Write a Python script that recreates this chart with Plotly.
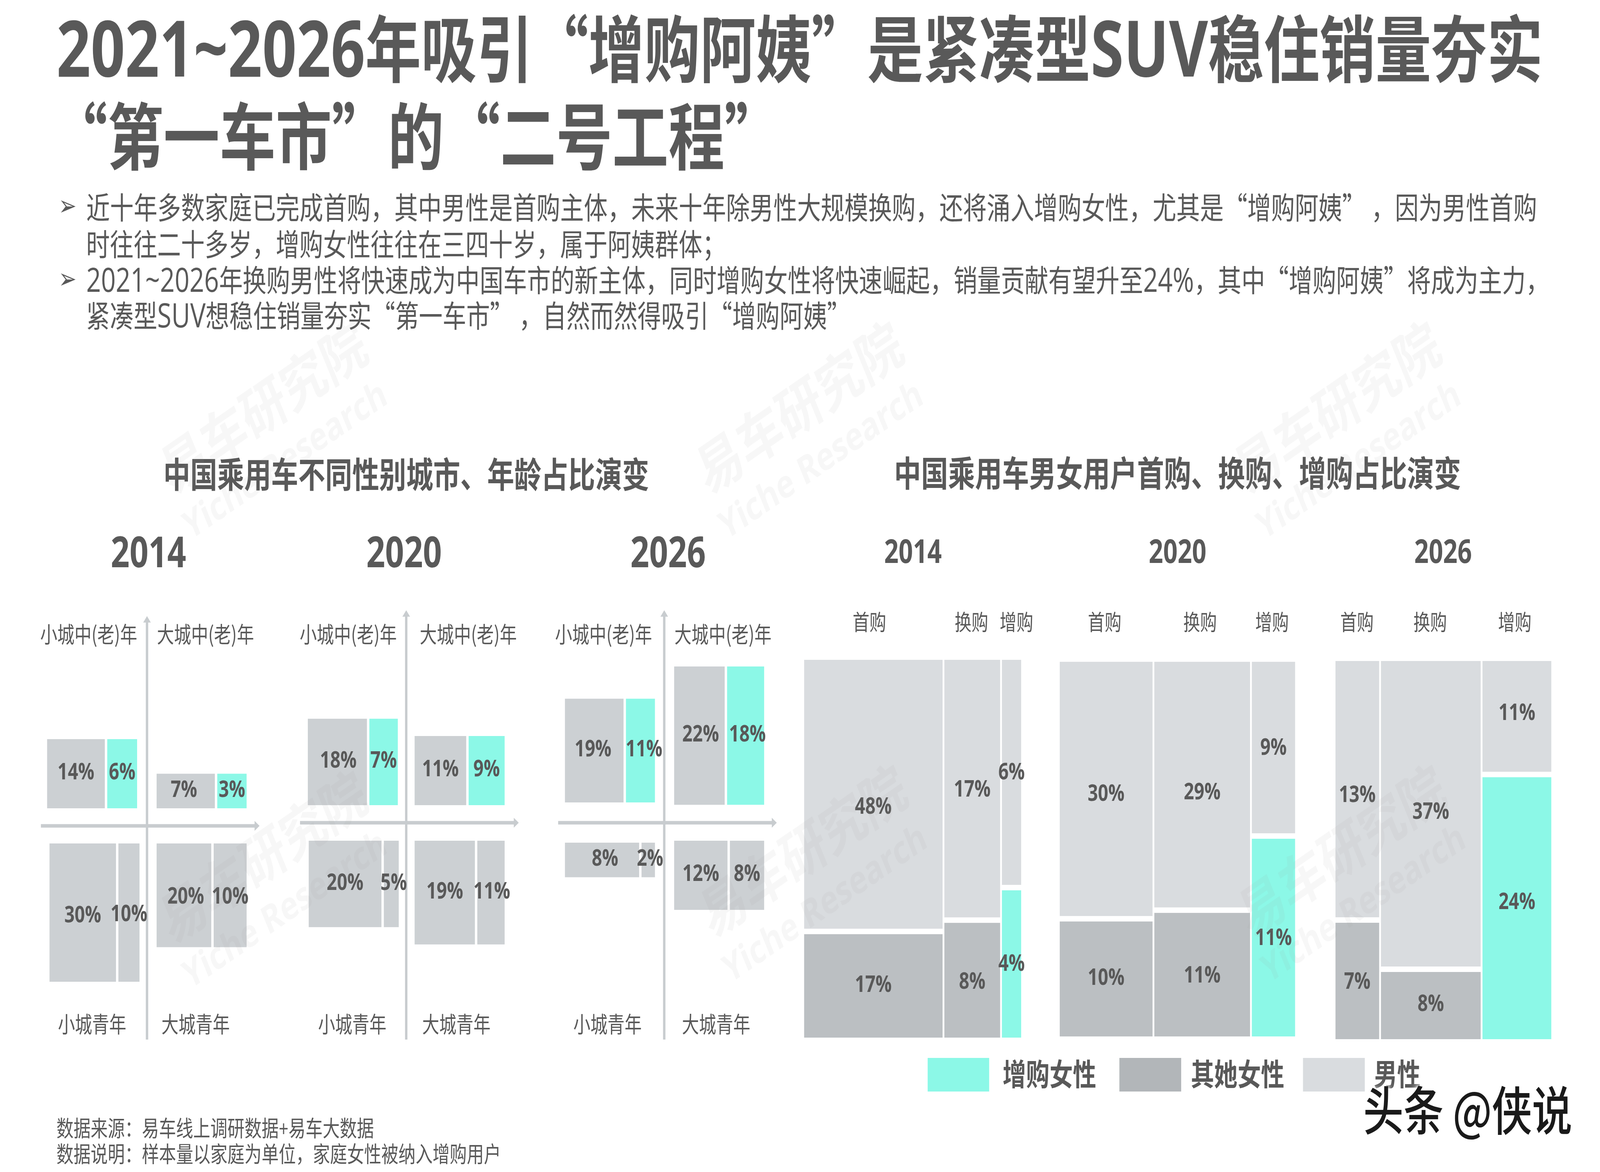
import re
import plotly.graph_objects as go

# ---------- data ----------
TITLE_LINES = ["2021~2026年吸引“增购阿姨”是紧凑型SUV稳住销量夯实", "“第一车市”的“二号工程”"]
BODY_LINES = [
    "近十年多数家庭已完成首购，其中男性是首购主体，未来十年除男性大规模换购，还将涌入增购女性，尤其是“增购阿姨”\u00a0，因为男性首购",
    "时往往二十多岁，增购女性往往在三四十岁，属于阿姨群体；",
    "2021~2026年换购男性将快速成为中国车市的新主体，同时增购女性将快速崛起，销量贡献有望升至24%，其中“增购阿姨”将成为主力，",
    "紧凑型SUV想稳住销量夯实“第一车市”\u00a0，自然而然得吸引“增购阿姨”",
]
SUBTITLE_LEFT = "中国乘用车不同性别城市、年龄占比演变"
SUBTITLE_RIGHT = "中国乘用车男女用户首购、换购、增购占比演变"
YEARS = ["2014", "2020", "2026"]
QUAD_NAMES = ["小城中(老)年", "大城中(老)年", "小城青年", "大城青年"]
PURCHASE_TYPES = ["首购", "换购", "增购"]
LEGEND_NAMES = ["增购女性", "其她女性", "男性"]
SOURCE_LINES = ["数据来源：易车线上调研数据+易车大数据", "数据说明：样本量以家庭为单位，家庭女性被纳入增购用户"]

# quadrant shares: [older small city, older big city, young small city, young big city]
quad_2014 = [[14, 6], [7, 3], [30, 10], [20, 10]]
quad_2020 = [[18, 7], [11, 9], [20, 5], [19, 11]]
quad_2026 = [[19, 11], [22, 18], [8, 2], [12, 8]]
# width of the first bar, in % of the quadrant's width
first_2014 = [65.9, 66.5, 75.9, 62.4]
first_2020 = [67.5, 58.9, 83.0, 68.8]
first_2026 = [66.9, 57.7, 84.7, 60.9]

# mekko labels: [first, replace, add]
male_2014 = [48, 17, 6]
other_2014 = [17, 8, 4]
male_2020 = [30, 29, 9]
other_2020 = [10, 11, 11]
male_2026 = [13, 37, 11]
other_2026 = [7, 8, 24]
# column widths and female height, in % as drawn
colw_2014 = [64.6, 26.5, 8.9]
colw_2020 = [40.2, 41.4, 18.4]
colw_2026 = [21.1, 47.0, 31.9]
fem_2014 = [28.1, 31.1, 39.7]
fem_2020 = [31.4, 33.7, 53.5]
fem_2026 = [31.5, 18.5, 70.0]

# ---------- styles / layout ----------
W, H = 5333, 3000
INK = "#595959"
TEAL = "#8CF8E7"
GREY_L = "#CCD0D3"
MALE = "#D9DCDF"
OTHER = "#BBBFC2"
AXIS = "#C8CCCF"
CJK = "Noto Sans CJK SC"
LATIN = "Open Sans"
TEXT_SHIFT = -5


def latin(s, size=None):
    fs = f";font-size:{size}px" if size else ""
    return re.sub(r"[0-9A-Za-z~%+@]+",
                  lambda m: f'<span style="font-family:Open Sans{fs}">' + m.group(0) + "</span>", s)


annotations = []


def ann(px, py, text, size, bold=False, anchor="center", color=INK, family=CJK, **kw):
    annotations.append(dict(
        x=px / W, y=1 - (py + TEXT_SHIFT) / H, xref="paper", yref="paper", text=text, showarrow=False,
        xanchor=anchor, yanchor="middle", borderpad=0,
        font=dict(size=size, color=color, family=family, weight=700 if bold else 400), **kw))


fig = go.Figure()
layout_axes = {}
axis_no = 0


def new_axes(x0, x1, y0, y1, xr, yr):
    global axis_no
    axis_no += 1
    suf = "" if axis_no == 1 else str(axis_no)
    common = dict(visible=False, fixedrange=True, showgrid=False, zeroline=False)
    layout_axes["xaxis" + suf] = dict(domain=[x0 / W, x1 / W], range=xr, anchor="y" + suf, **common)
    layout_axes["yaxis" + suf] = dict(domain=[1 - y1 / H, 1 - y0 / H], range=yr, anchor="x" + suf, **common)
    return "x" + suf, "y" + suf


# ---------- quadrant panels ----------
PX_X = 2.92  # px per % of quadrant width
PX_Y = 8.85  # px per % share
BAR_GAP = 8
QUAD_LEFT, QUAD_RIGHT, QUAD_UP, QUAD_DOWN = 354, 378, 547, 555
quad_panels = [
    dict(q=quad_2014, f=first_2014, vx=490, hy=2114, top=540, bot=547,
         ix=[33, 32, 25, 32], iy=[45, 45, 45, 45],
         nx=[[0, 0], [-6, 0], [0, 0], [6, 0]], ny=[[0, 0], [0, 0], [10, 7], [6, 6]]),
    dict(q=quad_2020, f=first_2020, vx=1354, hy=2106, top=547, bot=555,
         ix=[28, 28, 25, 28], iy=[45, 45, 46, 46],
         nx=[[3, 0], [0, 0], [0, 8], [0, 3]], ny=[[0, 0], [0, 0], [0, 0], [0, 0]]),
    dict(q=quad_2026, f=first_2026, vx=2214, hy=2106, top=547, bot=555,
         ix=[31, 33, 31, 33], iy=[52, 46, 51, 46],
         nx=[[-4, 12], [4, 6], [10, 6], [0, 0]], ny=[[0, 0], [0, 0], [0, 0], [0, 0]]),
]
for p in quad_panels:
    xa, ya = new_axes(p["vx"] - QUAD_LEFT, p["vx"] + QUAD_RIGHT, p["hy"] - QUAD_UP, p["hy"] + QUAD_DOWN,
                      [-QUAD_LEFT / PX_X, QUAD_RIGHT / PX_X], [-QUAD_DOWN / PX_Y, QUAD_UP / PX_Y])
    # axes with arrow heads
    fig.add_trace(go.Scatter(x=[0, 0], y=[-p["bot"] / PX_Y, (p["top"] - 18) / PX_Y], mode="lines",
                             line=dict(color=AXIS, width=8), xaxis=xa, yaxis=ya, hoverinfo="skip", cliponaxis=False))
    fig.add_trace(go.Scatter(x=[-QUAD_LEFT / PX_X, (QUAD_RIGHT - 18) / PX_X], y=[0, 0], mode="lines",
                             line=dict(color=AXIS, width=9), xaxis=xa, yaxis=ya, hoverinfo="skip", cliponaxis=False))
    fig.add_trace(go.Scatter(x=[0], y=[(p["top"] - 14) / PX_Y], mode="markers",
                             marker=dict(symbol="triangle-up", size=22, color=AXIS),
                             xaxis=xa, yaxis=ya, hoverinfo="skip", cliponaxis=False))
    fig.add_trace(go.Scatter(x=[(QUAD_RIGHT - 14) / PX_X], y=[0], mode="markers",
                             marker=dict(symbol="triangle-right", size=22, color=AXIS),
                             xaxis=xa, yaxis=ya, hoverinfo="skip", cliponaxis=False))
    bars = {GREY_L: [[], [], [], []], TEAL: [[], [], [], []]}
    tx, ty, tt = [], [], []
    for i, (vals, first) in enumerate(zip(p["q"], p["f"])):
        left_side = i in (0, 2)
        upper = i in (0, 1)
        gap = BAR_GAP / PX_X
        inner = p["ix"][i] / PX_X
        w2 = 100 - first
        start = -(inner + first + gap + w2) if left_side else inner
        h = sum(vals)
        off = p["iy"][i] / PX_Y
        base = off if upper else -(off + h)
        xs = [start + first / 2, start + first + gap + w2 / 2]
        ws = [first, w2]
        for j in range(2):
            col = TEAL if (upper and j == 1) else GREY_L
            bars[col][0].append(xs[j])
            bars[col][1].append(ws[j])
            bars[col][2].append(base)
            bars[col][3].append(h)
            tx.append(xs[j] + p["nx"][i][j] / PX_X)
            ty.append(base + h / 2 - p["ny"][i][j] / PX_Y)
            tt.append(f"{vals[j]}%")
    for col, (x, w, b, y) in bars.items():
        fig.add_trace(go.Bar(x=x, width=w, base=b, y=y, marker=dict(color=col, line=dict(width=0)),
                             xaxis=xa, yaxis=ya, hoverinfo="skip"))
    fig.add_trace(go.Scatter(x=tx, y=ty, text=tt, mode="text", xaxis=xa, yaxis=ya, cliponaxis=False,
                             hoverinfo="skip",
                             textfont=dict(size=60, color=INK, family=LATIN, weight=700)))

# ---------- mekko panels ----------
GAP_X_PX, GAP_Y_PX = 6, 14
mekko_panels = [
    dict(male=male_2014, other=other_2014, w=colw_2014, fem=fem_2014, x0=2680, x1=3404, y0=1689, y1=2656,
         nm=[35, 5, 3], nf=[0, 7, 2]),
    dict(male=male_2020, other=other_2020, w=colw_2020, fem=fem_2020, x0=3532, x1=4317, y0=1694, y1=2653,
         nm=[16, 23, 4], nf=[0, 5, 4]),
    dict(male=male_2026, other=other_2026, w=colw_2026, fem=fem_2026, x0=4451, x1=5171, y0=1692, y1=2660,
         nm=[18, -2, -6], nf=[5, -1, -13]),
]
for p in mekko_panels:
    xa, ya = new_axes(p["x0"], p["x1"], p["y0"], p["y1"], [0, 100], [0, 100])
    gx = GAP_X_PX / (p["x1"] - p["x0"]) * 100
    gy = GAP_Y_PX / (p["y1"] - p["y0"]) * 100
    pxy = (p["y1"] - p["y0"]) / 100
    left = 0
    groups = {MALE: [[], [], [], []], OTHER: [[], [], [], []], TEAL: [[], [], [], []]}
    tx, ty, tt = [], [], []
    for i, w in enumerate(p["w"]):
        bw = w - gx if i < 2 else w
        cx = left + bw / 2
        f = p["fem"][i]
        fcol = TEAL if i == 2 else OTHER
        fh = f - gy / 2
        mb = f + gy / 2
        mh = 100 - mb
        for col, b, h in ((fcol, 0, fh), (MALE, mb, mh)):
            groups[col][0].append(cx)
            groups[col][1].append(bw)
            groups[col][2].append(b)
            groups[col][3].append(h)
        tx += [cx, cx]
        ty += [fh / 2 - p["nf"][i] / pxy, mb + mh / 2 - p["nm"][i] / pxy]
        tt += [f"{p['other'][i]}%", f"{p['male'][i]}%"]
        left += w
    for col, (x, wd, b, y) in groups.items():
        fig.add_trace(go.Bar(x=x, width=wd, base=b, y=y, marker=dict(color=col, line=dict(width=0)),
                             xaxis=xa, yaxis=ya, hoverinfo="skip"))
    fig.add_trace(go.Scatter(x=tx, y=ty, text=tt, mode="text", xaxis=xa, yaxis=ya, cliponaxis=False,
                             hoverinfo="skip",
                             textfont=dict(size=60, color=INK, family=LATIN, weight=700)))

# ---------- texts ----------
ann(187, 122, latin(TITLE_LINES[0], 200), 186, bold=True, anchor="left")
ann(170, 343, latin(TITLE_LINES[1]), 187, bold=True, anchor="left")
for y, line in zip([531, 626, 718, 809], BODY_LINES):
    ann(286, y, latin(line, 86), 79, anchor="left")
for y in (531, 718):
    ann(194, y, "➢", 72, anchor="left", family="DejaVu Sans")
ann(1354, 1214, SUBTITLE_LEFT, 90, bold=True)
ann(3925, 1211, SUBTITLE_RIGHT, 90, bold=True)
for x, yr in zip([495, 1347, 2227], YEARS):
    ann(x, 1414, yr, 110, bold=True, family=LATIN)
for x, yr in zip([3043, 3925, 4810], YEARS):
    ann(x, 1413, yr, 84, bold=True, family=LATIN)
for xs in ([296, 685, 307, 652], [1161, 1561, 1174, 1521], [2012, 2410, 2025, 2387]):
    for k, (x, name) in enumerate(zip(xs, QUAD_NAMES)):
        ann(x, 1625 if k < 2 else 2623, name, 57)
for xs in ([2898, 3238, 3388], [3682, 4000, 4240], [4523, 4767, 5049]):
    for x, name in zip(xs, PURCHASE_TYPES):
        ann(x, 1594, name, 56)

# legend
shapes = []
for x0, x1, col in ((3092, 3297, TEAL), (3731, 3937, "#B2B6B9"), (4343, 4549, MALE)):
    shapes.append(dict(type="rect", xref="paper", yref="paper", x0=x0 / W, x1=x1 / W,
                       y0=1 - 2794 / H, y1=1 - 2708 / H, fillcolor=col, line=dict(width=0), layer="below"))
for x, name in zip([3341, 3968, 4578], LEGEND_NAMES):
    ann(x, 2750, name, 78, bold=True, anchor="left")

for y, line in zip([2889, 2955], SOURCE_LINES):
    ann(187, y, latin(line), 57, anchor="left")

# watermarks
for x, y in ((901, 1090), (2687, 1090), (4479, 1090), (900, 2240), (2700, 2225), (4495, 2225)):
    ann(x, y, '<span style="font-size:150px;font-weight:700">易车研究院</span><br>'
              '<span style="font-size:100px;font-weight:700;font-family:Open Sans">Yiche Research</span>',
        100, color="rgba(150,150,150,0.08)", textangle=-28)

# platform mark
annotations.append(dict(
    x=4892 / W, y=1 - 2835 / H, xref="paper", yref="paper", text="头条 @侠说", showarrow=False,
    xanchor="center", yanchor="middle",
    font=dict(size=134, color="#1A1A1A", family=CJK, weight=500,
              shadow="0 0 6px white, 0 0 12px white, 0 0 18px white")))

fig.update_layout(width=W, height=H, margin=dict(l=0, r=0, t=0, b=0, pad=0), paper_bgcolor="white",
                  plot_bgcolor="white", showlegend=False, barmode="overlay",
                  annotations=annotations, shapes=shapes, **layout_axes)

# The browser caps its window at 4096 px wide: fit the 5333 px page into whatever width it really has.
FIT = """
document.body.style.margin='0';
document.documentElement.style.overflow='hidden';
var k=Math.min(1,window.innerWidth/5333);
var d=document.getElementById('{plot_id}');
d.style.transformOrigin='0 0';
d.style.transform='scaleX('+k+')';
"""
fig.write_html("out.html", config=dict(displayModeBar=False), post_script=FIT)
